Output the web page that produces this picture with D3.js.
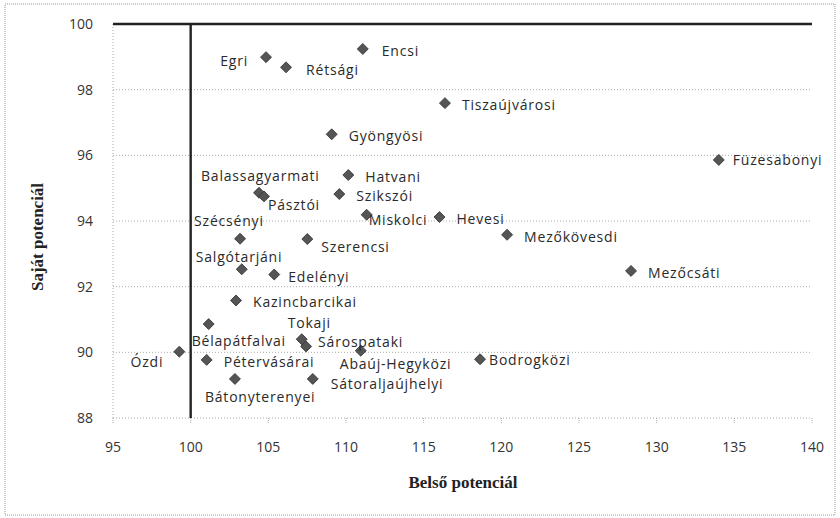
<!DOCTYPE html>
<html>
<head>
<meta charset="utf-8">
<script src="https://cdn.jsdelivr.net/npm/d3@7"></script>
<style>
  body { margin: 0; background: #fff; }
  .sans { font-family: "Open Sans", sans-serif; }
  .title { font-family: "Liberation Serif", "Times New Roman", serif; font-weight: bold; }
</style>
</head>
<body>
<svg id="chart" width="840" height="518"></svg>
<script>
// kistérségek: belső potenciál (x) és saját potenciál (y)
const names = [
  "Egri", "Rétsági", "Encsi", "Tiszaújvárosi", "Gyöngyösi", "Füzesabonyi",
  "Balassagyarmati", "Pásztói", "Hatvani", "Szikszói", "Miskolci", "Hevesi",
  "Mezőkövesdi", "Szécsényi", "Szerencsi", "Salgótarjáni", "Edelényi", "Mezőcsáti",
  "Kazincbarcikai", "Bélapátfalvai", "Tokaji", "Sárospataki", "Abaúj-Hegyközi", "Ózdi",
  "Pétervásárai", "Bodrogközi", "Bátonyterenyei", "Sátoraljaújhelyi"
];
const belso = [
  104.85, 106.14, 111.08, 116.37, 109.08, 134.0,
  104.4, 104.72, 110.15, 109.57, 111.33, 116.02,
  120.37, 103.18, 107.51, 103.29, 105.38, 128.35,
  102.92, 101.16, 107.15, 107.43, 110.95, 99.27,
  101.03, 118.63, 102.85, 107.86
];
const sajat = [
  98.99, 98.68, 99.24, 97.59, 96.64, 95.86,
  94.86, 94.75, 95.40, 94.82, 94.19, 94.12,
  93.58, 93.46, 93.45, 92.53, 92.37, 92.48,
  91.58, 90.86, 90.40, 90.18, 90.05, 90.02,
  89.77, 89.79, 89.19, 89.19
];
const xTicks = [95, 100, 105, 110, 115, 120, 125, 130, 135, 140];
const yTicks = [88, 90, 92, 94, 96, 98, 100];

// címkék elhelyezése (alapból jobbra a ponttól)
const labelPos = {
  "Egri": [-18, 4, "end"],
  "Rétsági": [20, 3],
  "Encsi": [19, 2],
  "Balassagyarmati": [-58, -17],
  "Pásztói": [4, 9],
  "Miskolci": [2, 5],
  "Szécsényi": [-46, -18],
  "Szerencsi": [14, 8],
  "Salgótarjáni": [-46, -12],
  "Edelényi": [14, 3],
  "Tokaji": [-14, -16],
  "Sárospataki": [12, -4],
  "Bélapátfalvai": [-17, 17],
  "Abaúj-Hegyközi": [-21, 13],
  "Ózdi": [-16, 10, "end"],
  "Bodrogközi": [9, 1],
  "Bátonyterenyei": [-30, 18],
  "Sátoraljaújhelyi": [18, 5],
  "Füzesabonyi": [14, 0]
};

const points = names.map((n, i) => ({ name: n, x: belso[i], y: sajat[i] }));

const svg = d3.select("#chart");
const x = d3.scaleLinear().domain([95, 140]).range([113, 812]);
const y = d3.scaleLinear().domain([88, 100]).range([418, 24]);

// külső keret
svg.append("rect")
  .attr("x", 5).attr("y", 4)
  .attr("width", 830).attr("height", 511)
  .attr("fill", "none")
  .attr("stroke", "#999")
  .attr("stroke-dasharray", "1,1");

// vízszintes rácsvonalak
svg.append("g")
  .selectAll("line")
  .data(yTicks.filter(d => d < 100))
  .join("line")
  .attr("x1", x(95)).attr("x2", x(140))
  .attr("y1", d => y(d)).attr("y2", d => y(d))
  .attr("stroke", "#aaa")
  .attr("stroke-dasharray", "1,2");

svg.append("line")
  .attr("x1", x(95)).attr("x2", x(95))
  .attr("y1", y(100)).attr("y2", y(88))
  .attr("stroke", "#aaa")
  .attr("stroke-dasharray", "1,2");

// x tengely kis jelölői
svg.append("g")
  .selectAll("line")
  .data(xTicks)
  .join("line")
  .attr("x1", d => x(d)).attr("x2", d => x(d))
  .attr("y1", y(88)).attr("y2", y(88) + 5)
  .attr("stroke", "#aaa")
  .attr("stroke-dasharray", "1,1");

// tengelyfeliratok
svg.append("g")
  .attr("class", "sans")
  .selectAll("text")
  .data(yTicks)
  .join("text")
  .attr("x", 93)
  .attr("y", d => y(d))
  .attr("dy", "0.35em")
  .attr("text-anchor", "end")
  .attr("font-size", 14)
  .attr("fill", "#333")
  .text(d => d);

svg.append("g")
  .attr("class", "sans")
  .selectAll("text")
  .data(xTicks)
  .join("text")
  .attr("x", d => x(d))
  .attr("y", 447)
  .attr("dy", "0.35em")
  .attr("text-anchor", "middle")
  .attr("font-size", 14)
  .attr("fill", "#333")
  .text(d => d);

// 100-as vonalak
svg.append("line")
  .attr("x1", x(95)).attr("x2", x(140))
  .attr("y1", y(100)).attr("y2", y(100))
  .attr("stroke", "#222")
  .attr("stroke-width", 2.4);

svg.append("line")
  .attr("x1", x(100)).attr("x2", x(100))
  .attr("y1", y(100)).attr("y2", y(88))
  .attr("stroke", "#222")
  .attr("stroke-width", 2.4);

// pontok
svg.append("g")
  .selectAll("path")
  .data(points)
  .join("path")
  .attr("d", d3.symbol(d3.symbolSquare, 60))
  .attr("transform", d => `translate(${x(d.x)},${y(d.y)}) rotate(45)`)
  .attr("fill", "#555")
  .attr("stroke", "#333")
  .attr("stroke-width", 0.8);

// címkék
svg.append("g")
  .attr("class", "sans")
  .selectAll("text")
  .data(points)
  .join("text")
  .attr("x", d => x(d.x) + (labelPos[d.name] ? labelPos[d.name][0] : 17))
  .attr("y", d => y(d.y) + (labelPos[d.name] ? labelPos[d.name][1] : 2))
  .attr("dy", "0.35em")
  .attr("text-anchor", d => (labelPos[d.name] && labelPos[d.name][2]) || "start")
  .attr("font-size", 14)
  .attr("letter-spacing", 0.8)
  .attr("fill", "#2a2a2a")
  .text(d => d.name);

// tengelycímek
svg.append("text")
  .attr("class", "title")
  .attr("x", 463)
  .attr("y", 482)
  .attr("dy", "0.35em")
  .attr("text-anchor", "middle")
  .attr("font-size", 17)
  .attr("fill", "#222")
  .text("Belső potenciál");

svg.append("text")
  .attr("class", "title")
  .attr("transform", "translate(37,237) rotate(-90)")
  .attr("dy", "0.35em")
  .attr("text-anchor", "middle")
  .attr("font-size", 17)
  .attr("fill", "#222")
  .text("Saját potenciál");
</script>
</body>
</html>
